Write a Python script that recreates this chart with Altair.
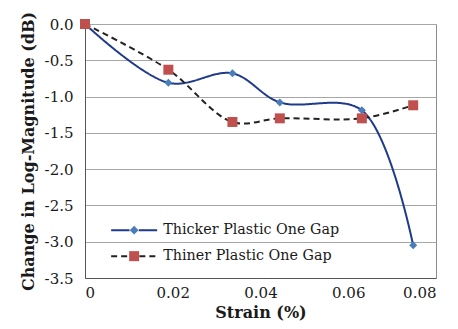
import altair as alt
import pandas as pd

strain = [0, 0.019, 0.0336, 0.0444, 0.0631, 0.0748]
thicker = [0, -0.81, -0.68, -1.08, -1.19, -3.05]
thiner = [0, -0.63, -1.35, -1.30, -1.30, -1.12]
series_names = ["Thicker Plastic One Gap", "Thiner Plastic One Gap"]
x_ticks = [0, 0.02, 0.04, 0.06, 0.08]
y_ticks = [0, -0.5, -1.0, -1.5, -2.0, -2.5, -3.0, -3.5]

rows = []
for s, vals in zip(series_names, [thicker, thiner]):
    for x, y in zip(strain, vals):
        rows.append({"strain": x, "value": y, "series": s})
df = pd.DataFrame(rows)
leg_df = pd.DataFrame({"series": series_names})

FONT = "DejaVu Serif"
NAVY = "#1f3a8a"
LBLUE = "#4a7ebb"
RED = "#c0504d"
DARK = "#222222"

x_enc = alt.X("strain:Q", scale=alt.Scale(domain=[0, 0.08], nice=False),
              axis=alt.Axis(values=x_ticks, tickCount=len(x_ticks), title="Strain (%)", grid=False, ticks=False,
                            labelExpr="datum.value == 0 ? '0' : format(datum.value, '.2f')",
                            labelOverlap=False, labelPadding=7, titlePadding=4,
                            domainColor="#555555"))
y_enc = alt.Y("value:Q", scale=alt.Scale(domain=[-3.5, 0], nice=False),
              axis=alt.Axis(values=y_ticks, tickCount=len(y_ticks), title="Change in Log-Magnitude (dB)", ticks=False,
                            labelExpr="replace(format(datum.value, '.1f'), '\u2212', '-')",
                            labelOverlap=False, labelPadding=12, titlePadding=8,
                            gridColor="#a6a6a6", domainColor="#555555"))

dom = series_names
lines = alt.Chart(df).mark_line(interpolate="catmull-rom", strokeWidth=2).encode(
    x=x_enc, y=y_enc,
    color=alt.Color("series:N", scale=alt.Scale(domain=dom, range=[NAVY, DARK]), legend=None),
    strokeDash=alt.StrokeDash("series:N", scale=alt.Scale(domain=dom, range=[[1, 0], [6, 4]]), legend=None),
)
points = alt.Chart(df).mark_point(filled=True, opacity=1, clip=False).encode(
    x="strain:Q", y="value:Q",
    shape=alt.Shape("series:N", scale=alt.Scale(domain=dom, range=["diamond", "square"]), legend=None),
    color=alt.Color("series:N", scale=alt.Scale(domain=dom, range=[LBLUE, RED]), legend=None),
    size=alt.Size("series:N", scale=alt.Scale(domain=dom, range=[64, 100]), legend=None),
)

path_line_a = "M-5.75,0L-1.15,0M1.15,0L5.75,0"
path_line_b = "M-5.75,0L-1.3,0M1.3,0L5.75,0"
path_mark_a = "M0,-1.1L1.1,0L0,1.1L-1.1,0Z"
path_mark_b = "M-1.25,-1.25L1.25,-1.25L1.25,1.25L-1.25,1.25Z"

LX, LY = 42, 199
leg_common = dict(orient="none", legendX=LX, legendY=LY, title=None, symbolSize=64,
                  labelFont=FONT, labelFontSize=14.3, labelColor="#1a1a1a", labelOffset=22,
                  labelLimit=400, rowPadding=11, padding=0)
legA = alt.Legend(symbolStrokeWidth=2, **leg_common)
leg_lines = alt.Chart(leg_df).mark_point(filled=False, opacity=1).transform_filter("false").encode(
    shape=alt.Shape("series:N", scale=alt.Scale(domain=dom, range=[path_line_a, path_line_b]), legend=legA),
    stroke=alt.Stroke("series:N", scale=alt.Scale(domain=dom, range=[NAVY, DARK]), legend=legA),
    strokeDash=alt.StrokeDash("series:N", scale=alt.Scale(domain=dom, range=[[1, 0], [6, 4]]), legend=legA),
)
legB = alt.Legend(symbolStrokeWidth=0, labelOpacity=0, **leg_common)
leg_marks = alt.Chart(leg_df).mark_point(filled=True, opacity=1).transform_filter("false").encode(
    shape=alt.Shape("series:N", scale=alt.Scale(domain=dom, range=[path_mark_a, path_mark_b]), legend=legB),
    fill=alt.Fill("series:N", scale=alt.Scale(domain=dom, range=[LBLUE, RED]), legend=legB),
)

chart = alt.layer(lines, points, leg_lines, leg_marks).resolve_scale(
    shape="independent", color="independent", strokeDash="independent",
    fill="independent", stroke="independent", size="independent"
).properties(
    width=351, height=254,
    padding={"left": 85, "top": 24, "right": 22, "bottom": 51},
    autosize=alt.AutoSizeParams(type="none"),
    background="white",
).configure_view(stroke="#8c8c8c", strokeWidth=1).configure_axis(
    labelFont=FONT, labelFontSize=15, labelColor="#1a1a1a",
    titleFont=FONT, titleFontSize=16, titleFontWeight="bold", titleColor="#1a1a1a",
)

chart.save("out.html", embed_options={"renderer": "svg", "actions": False})
